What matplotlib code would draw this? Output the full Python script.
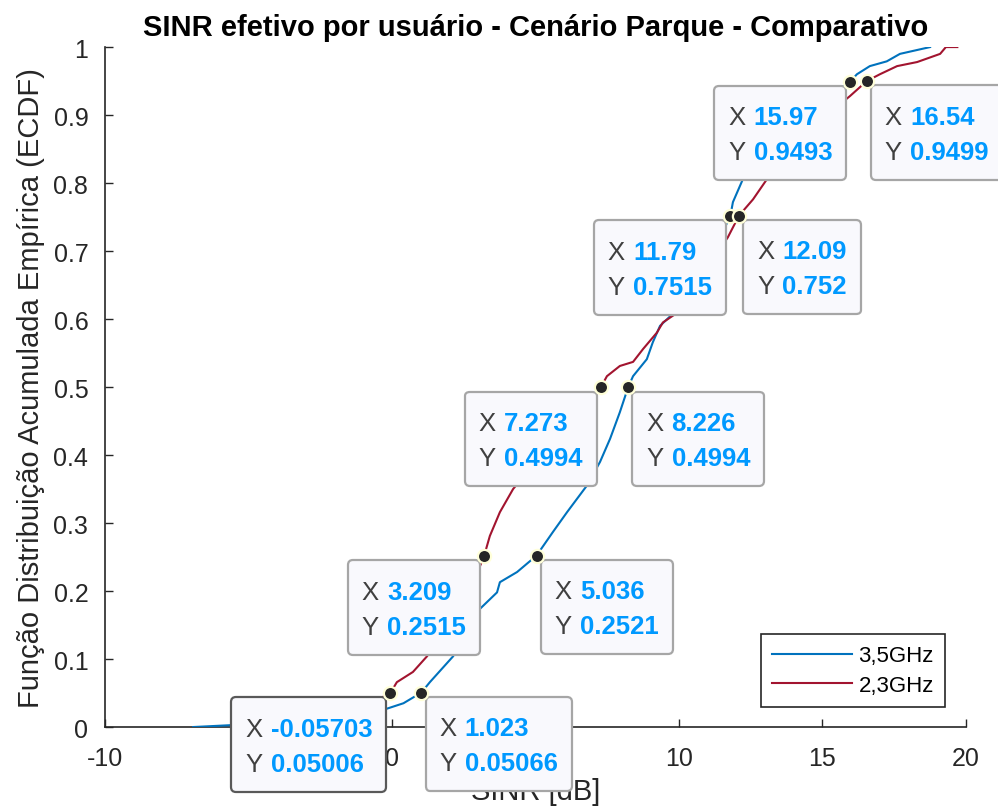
import matplotlib
matplotlib.use("Agg")
import matplotlib.pyplot as plt
from matplotlib.offsetbox import TextArea, HPacker, VPacker, AnnotationBbox, DrawingArea

plt.rcParams['font.family'] = ['Liberation Sans', 'DejaVu Sans']
plt.rcParams['axes.unicode_minus'] = False

# curvas ECDF (x em dB, y acumulado)
x_35 = [-6.93, -5.5, -3.0, -1.2, -0.25, 0.4, 1.023, 1.32, 2.13, 2.6, 3.07, 3.66, 3.76, 4.36,
        5.036, 5.61, 6.10, 6.79, 7.25, 7.6, 7.94, 8.226, 8.4, 8.88, 9.09, 9.34, 9.69, 9.9,
        10.6, 11.2, 11.79, 11.88, 12.23, 13.0, 14.3, 15.3, 15.97, 16.2, 16.65, 17.24, 17.7, 18.75]
y_35 = [0.0, 0.003, 0.01, 0.018, 0.026, 0.035, 0.05066, 0.066, 0.104, 0.14, 0.174, 0.198, 0.213, 0.228,
        0.2521, 0.287, 0.316, 0.355, 0.39, 0.424, 0.463, 0.4994, 0.516, 0.541, 0.566, 0.59, 0.604, 0.61,
        0.65, 0.70, 0.7515, 0.772, 0.806, 0.85, 0.90, 0.93, 0.9493, 0.96, 0.972, 0.979, 0.99, 1.0]

x_23 = [-3.8, -2.5, -1.2, -0.05703, 0.17, 0.73, 1.22, 1.8, 2.5, 3.07, 3.209, 3.41, 3.76, 4.22,
        5.0, 6.0, 7.273, 7.49, 7.94, 8.4, 8.75, 9.23, 9.44, 9.86, 10.6, 11.2, 11.7, 12.09,
        12.58, 13.07, 14.0, 15.0, 15.96, 16.54, 17.0, 17.6, 18.3, 19.1, 19.3, 19.7]
y_23 = [0.0, 0.01, 0.025, 0.05006, 0.066, 0.081, 0.104, 0.14, 0.19, 0.237, 0.2515, 0.281, 0.316, 0.35,
        0.39, 0.44, 0.4994, 0.516, 0.531, 0.537, 0.556, 0.58, 0.595, 0.607, 0.65, 0.69, 0.72, 0.752,
        0.776, 0.806, 0.85, 0.895, 0.928, 0.9499, 0.96, 0.972, 0.978, 0.99, 1.0, 1.0]

# datatips: (x, y, texto X, texto Y)
tips_35 = [(1.023, 0.05066, "1.023", "0.05066"), (5.036, 0.2521, "5.036", "0.2521"),
           (8.226, 0.4994, "8.226", "0.4994"), (11.79, 0.7515, "11.79", "0.7515"),
           (15.97, 0.9493, "15.97", "0.9493")]
tips_23 = [(-0.05703, 0.05006, "-0.05703", "0.05006"), (3.209, 0.2515, "3.209", "0.2515"),
           (7.273, 0.4994, "7.273", "0.4994"), (12.09, 0.752, "12.09", "0.752"),
           (16.54, 0.9499, "16.54", "0.9499")]

azul = '#0072BD'
vermelho = '#A2142F'
escuro = '#262626'

fig = plt.figure(figsize=(9.98, 8.12), dpi=100)
ax = fig.add_axes([0.1052, 0.1034, 0.8627, 0.8374])

ax.plot(x_35, y_35, color=azul, lw=1.5, label='3,5GHz', zorder=3)
ax.plot(x_23, y_23, color=vermelho, lw=1.5, label='2,3GHz', zorder=3)

ax.set_xlim(-10, 20)
ax.set_ylim(0, 1)
ax.set_xticks([-10, -5, 0, 5, 10, 15, 20])
ax.set_yticks([i / 10 for i in range(11)])
ax.set_yticklabels(['0', '0.1', '0.2', '0.3', '0.4', '0.5', '0.6', '0.7', '0.8', '0.9', '1'])
ax.tick_params(direction='in', length=6, width=1, colors=escuro, labelsize=18)
ax.tick_params(axis='y', pad=12)
ax.tick_params(axis='x', pad=14)
for s in ['top', 'right']:
    ax.spines[s].set_visible(False)
for s in ['left', 'bottom']:
    ax.spines[s].set_color(escuro)
    ax.spines[s].set_linewidth(1.2)

ax.set_title('SINR efetivo por usuário - Cenário Parque - Comparativo',
             fontsize=21, fontweight='bold', color='black', pad=9)
ax.set_xlabel('SINR [dB]', fontsize=21, color=escuro, labelpad=5)
ax.set_ylabel('Função Distribuição Acumulada Empírica (ECDF)', fontsize=21, color=escuro, labelpad=6)

leg = ax.legend(loc='lower right', bbox_to_anchor=(0.9756, 0.029), borderaxespad=0,
                fontsize=16, fancybox=False, edgecolor=escuro, framealpha=1,
                handlelength=3.6, handletextpad=0.3, borderpad=0.5, labelspacing=0.4)
leg.get_frame().set_linewidth(1.2)


def datatip(x, y, tx, ty, lado, selecionado=False):
    def linha(rot, val):
        a = TextArea(rot, textprops=dict(color='#404040', fontsize=18.5))
        b = TextArea(val, textprops=dict(color='#0099FF', fontsize=18.5, fontweight='bold'))
        return HPacker(children=[a, b], sep=6, pad=0, align='baseline')
    linhas = VPacker(children=[linha('X', tx), linha('Y', ty)], sep=8, pad=0, align='left')
    conteudo = VPacker(children=[DrawingArea(0, 4), linhas, DrawingArea(0, 1.5)],
                       sep=0, pad=0, align='left')
    caixa = HPacker(children=[conteudo], pad=10, sep=0)
    if lado == 'dir':
        alin, off = (0, 1), (3, -3)
    else:
        alin, off = (1, 1), (-3, -3)
    ab = AnnotationBbox(caixa, (x, y), xybox=off, xycoords='data', boxcoords='offset points',
                        box_alignment=alin, pad=0, frameon=True, annotation_clip=False,
                        bboxprops=dict(boxstyle='round,pad=0,rounding_size=0.35',
                                       fc='#F9F9FD',
                                       ec='#595959' if selecionado else '#A6A6A6', lw=1.6),
                        zorder=8)
    ax.add_artist(ab)
    ax.plot([x], [y], 'o', ms=9.5, mfc=escuro, mec='#FFFFD9', mew=1.6, zorder=9, clip_on=False)


for i in range(len(tips_35)):
    xb, yb, txb, tyb = tips_35[i]
    xr, yr, txr, tyr = tips_23[i]
    if xb < xr:
        datatip(xb, yb, txb, tyb, 'esq')
        datatip(xr, yr, txr, tyr, 'dir')
    else:
        datatip(xr, yr, txr, tyr, 'esq', selecionado=(i == 0))
        datatip(xb, yb, txb, tyb, 'dir')

fig.savefig('out.png', dpi=100, facecolor='white')
